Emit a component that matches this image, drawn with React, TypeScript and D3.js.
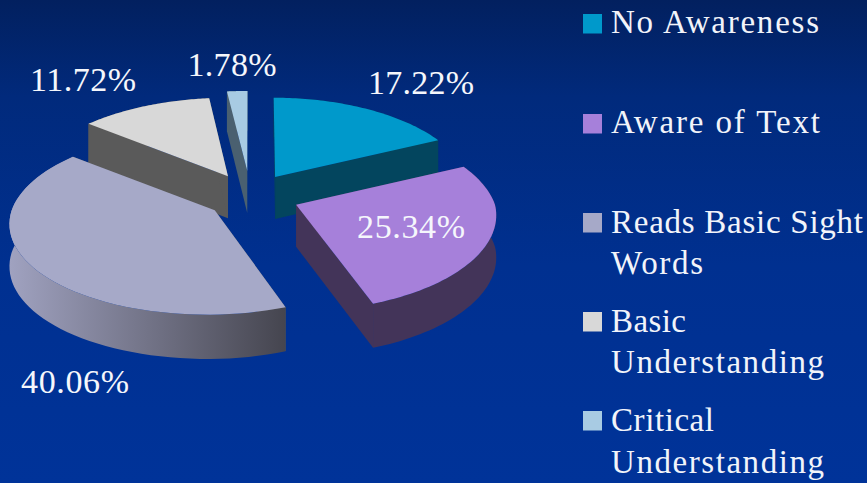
import React from "react";
import * as d3 from "d3";

const categories = ["No Awareness", "Aware of Text", "Reads Basic Sight Words", "Basic Understanding", "Critical Understanding"];
const values = [17.22, 25.34, 40.06, 11.72, 1.78];
const valueLabels = ["17.22%", "25.34%", "40.06%", "11.72%", "1.78%"];
const topColors = ["#0099cb", "#a680da", "#a6a9c8", "#d8d8d8", "#a8cbe3"];
const sideColors = ["#03455e", "#433459", "#5a5a5a", "#5a5a5a", "#4a6070"];
const wallLight = ["#03455e", "#433459", "#a0a2c0", "#5a5a5a", "#4a6070"];
const wallDark = ["#03455e", "#433459", "#45454f", "#5a5a5a", "#4a6070"];
const legendLines = [["No Awareness"], ["Aware of Text"], ["Reads Basic Sight", "Words"], ["Basic", "Understanding"], ["Critical", "Understanding"]];

const W = 867, H = 483;
const CX = 251, CY = 197, EX = 47, EY = 26;
const RX_L = 203, RX_R = 195, RY = 92, K_FAR = 0.149, K_NEAR = 0.12, DEPTH = 42, VP = 0.45, SKEW = 35;
const NUDGE: [number, number][] = [[-1, 2], [1.5, -2], [2, -2], [-0.5, 2], [-1, 0]];
const SCALE = [0.99, 1.02, 1, 0.98, 1];
const DRAW_ORDER = [4, 3, 0, 2, 1];
const LABEL_POS: Record<number, [number, number]> = { 0: [421, 94], 1: [411, 238], 2: [75, 393], 3: [83, 91], 4: [232, 76] };
const LABEL_W: Record<number, number> = { 0: 106, 1: 108, 2: 108, 3: 106, 4: 89 };
const LEGEND_BASE = [[33], [133], [233, 274], [332, 373], [431, 473]];
const LEGEND_SW = [14, 114, 213, 312, 411];
const LEGEND_W: Record<string, number> = { "No Awareness": 208, "Aware of Text": 209, "Reads Basic Sight": 252, "Words": 92, "Basic": 75, "Understanding": 213, "Critical": 103 };
const FONT = "'Liberation Serif', serif";

const arcs = d3.pie<number>().sort(null).value((d) => d)(values);

function slicePaths(i: number) {
  const a = arcs[i];
  const m = (a.startAngle + a.endAngle) / 2;
  const ax = CX + EX * Math.sin(m) + NUDGE[i][0], ay = CY - EY * Math.cos(m) + NUDGE[i][1];
  const proj = (th: number): [number, number, number] => {
    const X = Math.sin(th), Y = Math.cos(th);
    const s = (1 / (1 + (Y > 0 ? K_FAR : K_NEAR) * Y));
    const depth = DEPTH * (1 + (s - 1) * 0.4);
    const skew = Y < 0 ? -SKEW * (s - 1) : 0;
    return [ax + SCALE[i] * (X < 0 ? RX_L : RX_R) * X * s + (ax - CX) * (s - 1) * VP + skew, ay - SCALE[i] * RY * Y * s, depth];
  };
  const angles = d3.range(0, 61).map((t) => a.startAngle + ((a.endAngle - a.startAngle) * t) / 60);
  const rim = angles.map(proj);
  const line = d3.line();
  const top: [number, number][] = [[ax, ay], ...rim.map((p) => [p[0], p[1]] as [number, number])];
  const outer: [number, number][] = [
    ...rim.map((p) => [p[0], p[1]] as [number, number]),
    ...rim.slice().reverse().map((p) => [p[0], p[1] + p[2]] as [number, number]),
  ];
  const wall = (p: [number, number, number]): [number, number][] => [
    [ax, ay], [p[0], p[1]], [p[0], p[1] + p[2]], [ax, ay + DEPTH],
  ];
  const xs = rim.map((p) => p[0]);
  return {
    top: line(top) + "Z",
    outer: line(outer) + "Z",
    wallA: line(wall(rim[0])) + "Z",
    wallB: line(wall(rim[rim.length - 1])) + "Z",
    x0: d3.min(xs)!,
    x1: d3.max(xs)!,
  };
}

export default function App() {
  const slices = categories.map((_, i) => slicePaths(i));
  return (
    <svg width={W} height={H} viewBox={`0 0 ${W} ${H}`} style={{ position: "absolute", left: 0, top: 0, display: "block" }}>
      <defs>
        <linearGradient id="bg" x1="0" y1="0" x2="0" y2="1">
          <stop offset="0" stopColor="#02205f" />
          <stop offset="0.2" stopColor="#012a7c" />
          <stop offset="0.55" stopColor="#003090" />
          <stop offset="1" stopColor="#003399" />
        </linearGradient>
        {slices.map((s, i) => (
          <linearGradient key={i} id={`wall${i}`} gradientUnits="userSpaceOnUse" x1={s.x0} x2={s.x1} y1={0} y2={0}>
            <stop offset="0" stopColor={wallLight[i]} />
            <stop offset="1" stopColor={wallDark[i]} />
          </linearGradient>
        ))}
      </defs>
      <rect width={W} height={H} fill="url(#bg)" />
      {DRAW_ORDER.map((i) => (
        <g key={i}>
          <path d={slices[i].wallA} fill={sideColors[i]} />
          <path d={slices[i].wallB} fill={sideColors[i]} />
          <path d={slices[i].outer} fill={`url(#wall${i})`} />
          <path d={slices[i].top} fill={topColors[i]} />
        </g>
      ))}
      {valueLabels.map((t, i) => (
        <text key={t} x={LABEL_POS[i][0]} y={LABEL_POS[i][1]} textAnchor="middle" fontFamily={FONT} fontSize={34} fill="#f5f7fc" textLength={LABEL_W[i]} lengthAdjust="spacing">
          {t}
        </text>
      ))}
      {categories.map((c, i) => (
        <g key={c}>
          <rect x={583} y={LEGEND_SW[i]} width={19} height={19.5} fill={topColors[i]} />
          {legendLines[i].map((l, j) => (
            <text key={l} x={611} y={LEGEND_BASE[i][j]} fontFamily={FONT} fontSize={33} fill="#f2f4fa" textLength={LEGEND_W[l]} lengthAdjust="spacing">
              {l}
            </text>
          ))}
        </g>
      ))}
    </svg>
  );
}
